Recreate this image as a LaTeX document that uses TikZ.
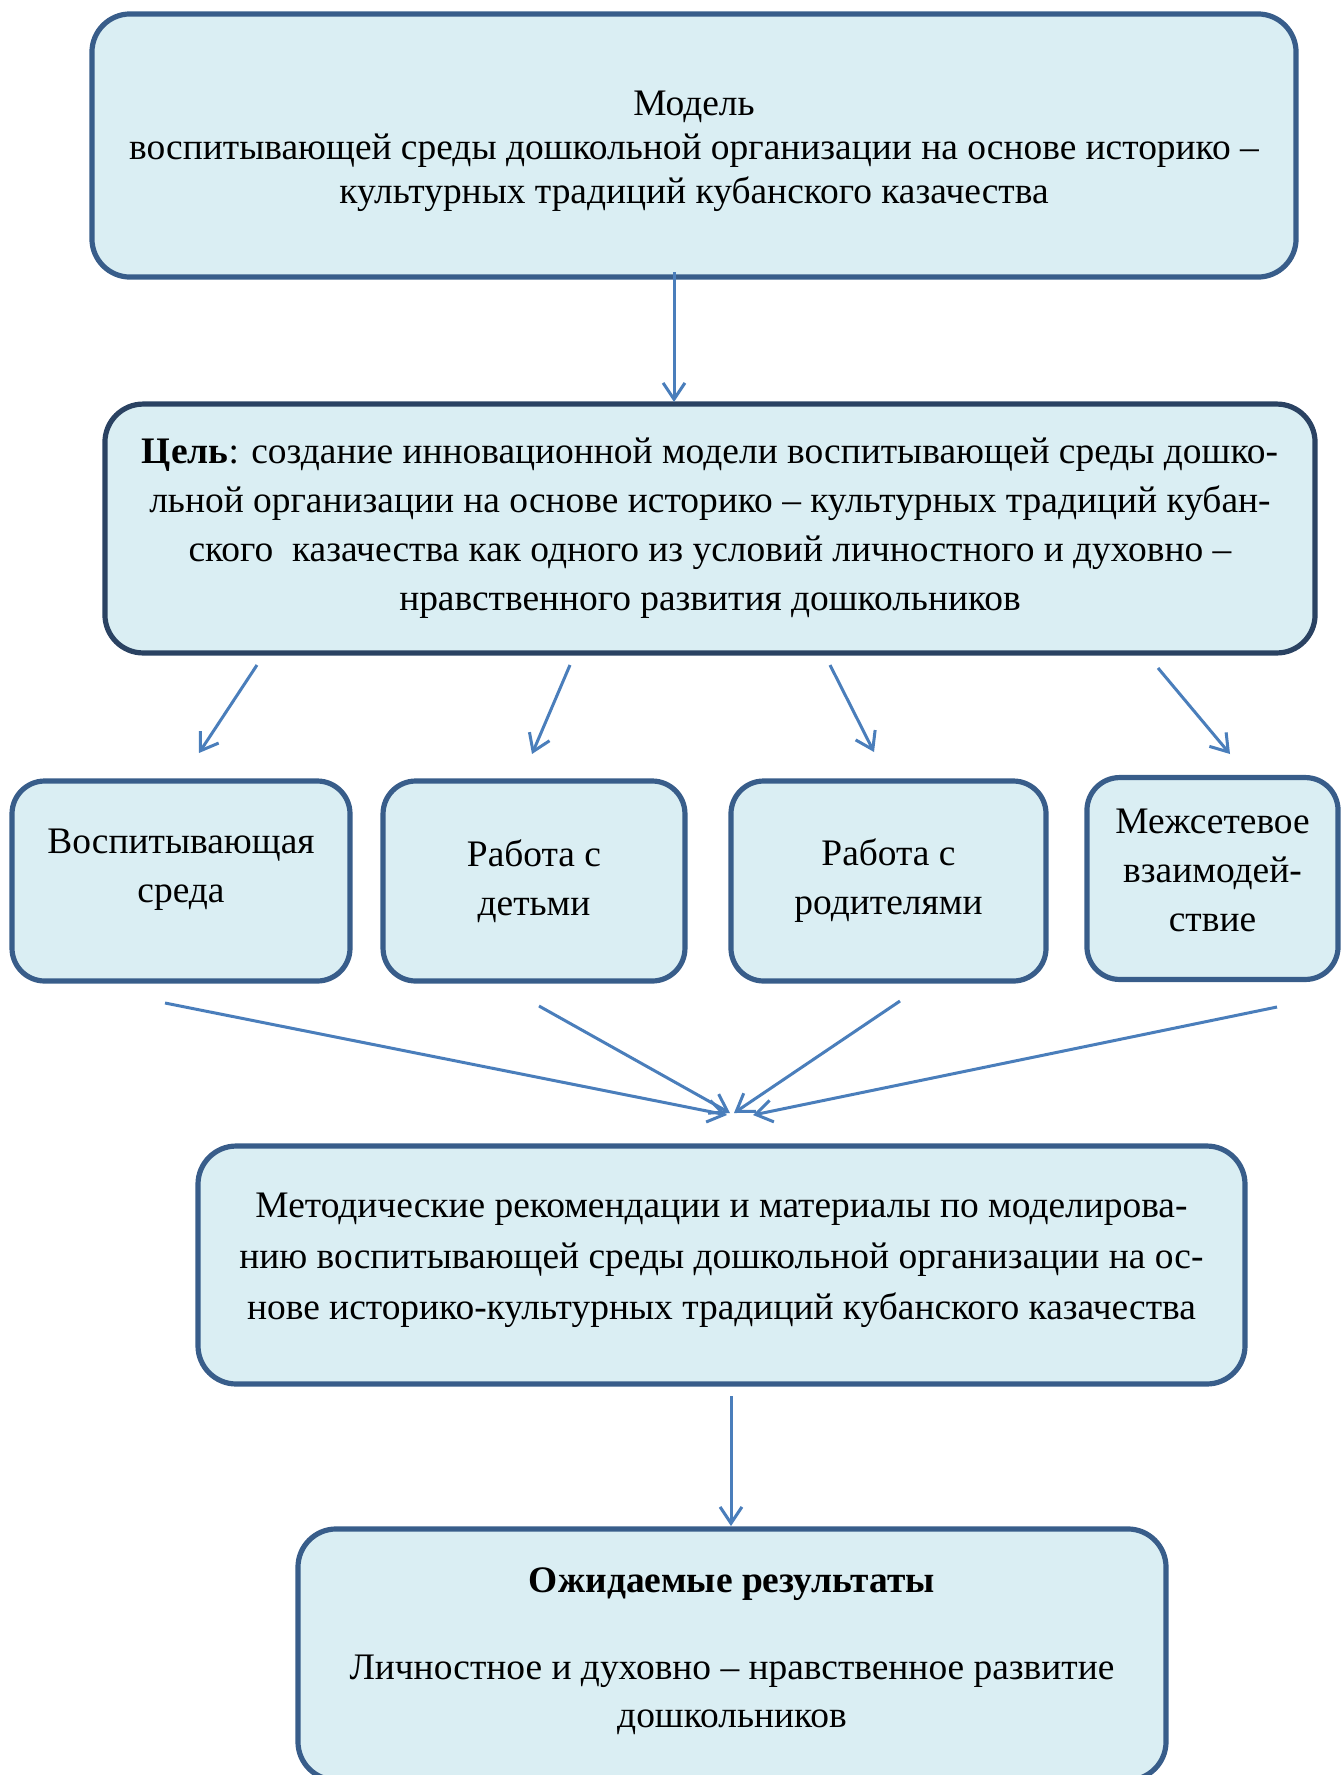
\documentclass[tikz,border=0pt]{standalone}
\usepackage{fontspec}
\setmainfont{Liberation Serif}
\usetikzlibrary{arrows.meta}
\definecolor{boxfill}{HTML}{DAEEF3}
\definecolor{boxline}{HTML}{385D8A}
\definecolor{goalline}{HTML}{2A4262}
\definecolor{arrowblue}{HTML}{4A7EBB}
\newcommand\lowerpad[1]{\rule[-#1]{0pt}{#1}}
\newcommand\upperpad[1]{\rule{0pt}{#1}}
\begin{document}
\begin{tikzpicture}[x=0.366pt,y=-0.366pt,
  box/.style={draw=boxline,line width=1.9pt,fill=boxfill,rounded corners=14pt,
    align=center,inner sep=0pt,font=\fontsize{13.7}{17.9}\selectfont},
  smallbox/.style={box,rounded corners=12pt,minimum height=73.2pt},
  arr/.style={draw=arrowblue,line width=1.1pt,-{Straight Barb[length=6pt,width=8pt]}}]
\useasboundingbox (0,0) rectangle (1341,1775);

\node[box,minimum width=440.7pt,minimum height=96.3pt,font=\fontsize{13.7}{16.1}\selectfont] (model) at (694,145.5)
  {\upperpad{13.5pt}Модель\\воспитывающей среды дошкольной организации на основе историко –\\культурных традиций кубанского казачества};
\node[box,draw=goalline,minimum width=442.9pt,minimum height=91.1pt] (goal) at (710,528.5)
  {\textbf{Цель}: создание инновационной модели воспитывающей среды дошко-\\льной организации на основе историко – культурных традиций кубан-\\ского \ казачества как одного из условий личностного и духовно –\\нравственного развития дошкольников};

\node[smallbox,minimum width=123.7pt] (env) at (181,881) {Воспитывающая\\среда\lowerpad{11pt}};
\node[smallbox,minimum width=110.5pt] (kids) at (534,881) {Работа с\\детьми};
\node[smallbox,minimum width=115.3pt] (parents) at (888.5,881) {Работа с\\родителями};
\node[smallbox,minimum width=91.9pt,minimum height=73.9pt] (network) at (1212.5,878.5) {Межсетевое\\взаимодей-\\ствие\lowerpad{6pt}};

\node[box,minimum width=383.2pt,minimum height=87.1pt,font=\fontsize{13.7}{18.6}\selectfont] (method) at (721.5,1265)
  {Методические рекомендации и материалы по моделирова-\\нию воспитывающей среды дошкольной организации на ос-\\нове историко-культурных традиций кубанского казачества\lowerpad{6.6pt}};
\node[box,minimum width=317.7pt,minimum height=91.9pt,font=\fontsize{13.7}{17.4}\selectfont] (result) at (732,1654.5)
  {\textbf{Ожидаемые результаты}\\[14.5pt]Личностное и духовно – нравственное развитие\\дошкольников\lowerpad{5pt}};

\coordinate (m0) at (674,272);   \coordinate (g0) at (674,402);
\coordinate (g1) at (257,665);   \coordinate (e1) at (199,753);
\coordinate (g2) at (570,665);   \coordinate (e2) at (532,754);
\coordinate (g3) at (830,665);   \coordinate (e3) at (874,752);
\coordinate (g4) at (1158,668);  \coordinate (e4) at (1230,754);
\coordinate (s1) at (165,1003);  \coordinate (t1) at (727,1115);
\coordinate (s2) at (539,1006);  \coordinate (t2) at (730,1113);
\coordinate (s3) at (900,1001);  \coordinate (t3) at (734,1113);
\coordinate (s4) at (1277,1007); \coordinate (t4) at (753,1115);
\coordinate (r0) at (731,1396);  \coordinate (r1) at (731,1526);

\draw[arr] (m0) -- (g0);
\foreach \n in {1,...,4} {
  \draw[arr] (g\n) -- (e\n);
  \draw[arr] (s\n) -- (t\n);
}
\draw[arr] (r0) -- (r1);
\end{tikzpicture}
\end{document}
